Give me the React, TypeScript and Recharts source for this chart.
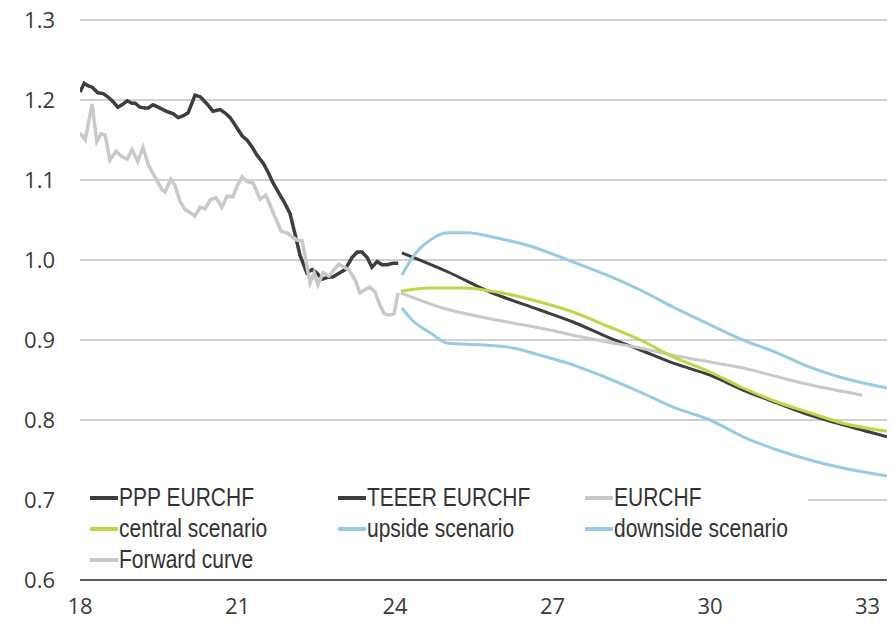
import { CartesianGrid, Legend, Line, LineChart, XAxis, YAxis } from 'recharts'

// [year (18 = 2018), value]
const pppEurchf = [
  [18.0, 1.21], [18.08, 1.221], [18.15, 1.218], [18.23, 1.216], [18.34, 1.209], [18.44, 1.208],
  [18.53, 1.204], [18.63, 1.198], [18.72, 1.191], [18.8, 1.194], [18.9, 1.199], [18.99, 1.196],
  [19.05, 1.196], [19.14, 1.191], [19.24, 1.19], [19.3, 1.19], [19.39, 1.194], [19.49, 1.191],
  [19.58, 1.188], [19.68, 1.185], [19.77, 1.183], [19.87, 1.178], [19.96, 1.18], [20.06, 1.184],
  [20.19, 1.206], [20.29, 1.204], [20.42, 1.195], [20.53, 1.186], [20.67, 1.188], [20.76, 1.184],
  [20.86, 1.178], [20.95, 1.169], [21.09, 1.155], [21.18, 1.15], [21.28, 1.141], [21.37, 1.131],
  [21.49, 1.121], [21.58, 1.11], [21.68, 1.096], [21.81, 1.081], [21.9, 1.071], [22.0, 1.058],
  [22.1, 1.031], [22.19, 1.006], [22.32, 0.984], [22.42, 0.988], [22.51, 0.984], [22.61, 0.976],
  [22.7, 0.978], [22.82, 0.979], [22.95, 0.984], [23.05, 0.988], [23.18, 1.003], [23.28, 1.01],
  [23.37, 1.01], [23.47, 1.003], [23.56, 0.991], [23.66, 0.998], [23.75, 0.994], [23.85, 0.994],
  [23.96, 0.996], [24.06, 0.996],
]

const teeerEurchf = [
  [24.13, 1.009], [25.01, 0.985], [25.81, 0.96], [26.76, 0.9375], [27.39, 0.9225], [28.04, 0.904],
  [28.67, 0.8875], [29.3, 0.871], [30.0, 0.856], [30.63, 0.8375], [31.28, 0.821], [31.9, 0.806],
  [32.53, 0.794], [33.37, 0.779],
]

const eurchf = [
  [18.0, 1.159], [18.1, 1.15], [18.23, 1.195], [18.32, 1.148], [18.4, 1.158], [18.48, 1.156],
  [18.57, 1.125], [18.69, 1.136], [18.78, 1.13], [18.9, 1.126], [18.99, 1.138], [19.1, 1.123],
  [19.2, 1.141], [19.3, 1.119], [19.45, 1.101], [19.56, 1.088], [19.62, 1.085], [19.73, 1.101],
  [19.81, 1.093], [19.9, 1.074], [20.0, 1.063], [20.1, 1.059], [20.19, 1.055], [20.29, 1.066],
  [20.38, 1.064], [20.48, 1.075], [20.59, 1.078], [20.7, 1.066], [20.8, 1.08], [20.91, 1.079],
  [21.01, 1.095], [21.09, 1.104], [21.18, 1.098], [21.3, 1.096], [21.43, 1.076], [21.54, 1.081],
  [21.7, 1.056], [21.83, 1.036], [21.94, 1.034], [22.04, 1.029], [22.13, 1.025], [22.23, 1.024],
  [22.3, 1.0], [22.38, 0.971], [22.46, 0.984], [22.53, 0.969], [22.63, 0.984], [22.74, 0.98],
  [22.84, 0.988], [22.93, 0.995], [23.03, 0.991], [23.12, 0.988], [23.24, 0.975], [23.33, 0.959],
  [23.43, 0.963], [23.52, 0.966], [23.62, 0.96], [23.71, 0.944], [23.79, 0.933], [23.89, 0.931],
  [23.98, 0.933], [24.06, 0.959],
]

const centralScenario = [
  [24.11, 0.961], [24.67, 0.965], [25.3, 0.965], [25.94, 0.96], [26.76, 0.9475], [27.39, 0.935],
  [28.04, 0.9175], [28.67, 0.9], [29.3, 0.879], [30.0, 0.86], [30.63, 0.84], [31.28, 0.8225],
  [31.9, 0.809], [32.53, 0.796], [33.37, 0.786],
]

const upsideScenario = [
  [24.13, 0.981], [24.34, 1.004], [24.67, 1.025], [25.01, 1.034], [25.37, 1.034], [25.94, 1.0275],
  [26.57, 1.0175], [27.39, 0.9975], [28.04, 0.981], [28.67, 0.9625], [29.3, 0.941], [30.0, 0.919],
  [30.63, 0.9], [31.28, 0.884], [31.9, 0.866], [32.53, 0.8525], [33.37, 0.84],
]

const downsideScenario = [
  [24.13, 0.94], [24.34, 0.924], [24.67, 0.909], [25.01, 0.896], [25.62, 0.894], [26.25, 0.89],
  [26.76, 0.881], [27.39, 0.869], [28.04, 0.8525], [28.67, 0.835], [29.3, 0.816], [30.0, 0.8],
  [30.63, 0.779], [31.28, 0.7625], [31.9, 0.75], [32.53, 0.74], [33.37, 0.73],
]

const forwardCurve = [
  [24.11, 0.959], [24.91, 0.94], [25.94, 0.925], [26.76, 0.915], [27.39, 0.906], [28.04, 0.8975],
  [28.67, 0.89], [29.3, 0.881], [30.0, 0.8725], [30.63, 0.865], [31.28, 0.854], [31.9, 0.844],
  [32.9, 0.831],
]

const xTicks = [18, 21, 24, 27, 30, 33]
const yTicks = [0.6, 0.7, 0.8, 0.9, 1.0, 1.1, 1.2, 1.3]

const DARK = '#3e3e3e'
const LIGHT = '#c9c9c9'
const GREEN = '#c2d54a'
const BLUE = '#98cbe5'

const series = [
  { name: 'PPP EURCHF', data: pppEurchf, color: DARK, width: 3.5, type: 'linear' },
  { name: 'TEEER EURCHF', data: teeerEurchf, color: DARK, width: 3, type: 'monotone' },
  { name: 'EURCHF', data: eurchf, color: LIGHT, width: 3.5, type: 'linear' },
  { name: 'Forward curve', data: forwardCurve, color: LIGHT, width: 3, type: 'monotone' },
  { name: 'central scenario', data: centralScenario, color: GREEN, width: 3, type: 'monotone' },
  { name: 'upside scenario', data: upsideScenario, color: BLUE, width: 3, type: 'monotone' },
  { name: 'downside scenario', data: downsideScenario, color: BLUE, width: 3, type: 'monotone' },
] as const

const legendOrder = [
  'PPP EURCHF', 'TEEER EURCHF', 'EURCHF',
  'central scenario', 'upside scenario', 'downside scenario',
  'Forward curve',
]

const toPoints = (rows: readonly (readonly number[])[]) => rows.map(([t, v]) => ({ t, v }))

const tickFont = { fontFamily: "'Open Sans', sans-serif", fontSize: 22, fill: '#3a3a3a' }

function ChartLegend() {
  return (
    <div
      style={{
        display: 'grid',
        gridTemplateColumns: '248px 247px 233px',
        gridAutoRows: '31px',
        paddingTop: 1,
        background: '#fff',
        width: 728,
        height: 94,
        boxSizing: 'border-box',
        fontFamily: "'Liberation Sans', Arial, sans-serif",
        fontSize: 25,
        color: '#333',
      }}
    >
      {legendOrder.map((name) => {
        const s = series.find((x) => x.name === name)!
        return (
          <div key={name} style={{ display: 'flex', alignItems: 'center', paddingLeft: 10, whiteSpace: 'nowrap' }}>
            <span style={{ flex: '0 0 28px', height: 4, background: s.color, marginRight: 1 }} />
            {/* condensed face isn't available, squeeze the regular one */}
            <span style={{ display: 'inline-block', transform: 'scaleX(0.84)', transformOrigin: 'left center' }}>
              {name}
            </span>
          </div>
        )
      })}
    </div>
  )
}

export default function App() {
  return (
    <div style={{ position: 'absolute', left: 0, top: 0, background: '#fff' }}>
      <LineChart width={893} height={624} margin={{ top: 20, right: 6, bottom: 0, left: 0 }}>
        <CartesianGrid vertical={false} stroke="#a3a3a3" strokeWidth={1} />
        <XAxis
          type="number"
          dataKey="t"
          domain={[18, 33.37]}
          ticks={xTicks}
          allowDataOverflow
          height={44}
          tickLine={false}
          tickSize={0}
          tickMargin={18}
          axisLine={{ stroke: '#333', strokeWidth: 1.5 }}
          tick={tickFont}
        />
        <YAxis
          type="number"
          domain={[0.6, 1.3]}
          ticks={yTicks}
          width={80}
          tickLine={false}
          axisLine={false}
          tickSize={0}
          tickMargin={25}
          tick={tickFont}
          tickFormatter={(v: number) => v.toFixed(1)}
        />
        <Legend
          layout="horizontal"
          verticalAlign="middle"
          align="center"
          content={() => <ChartLegend />}
          wrapperStyle={{ position: 'absolute', left: 80, top: 481, width: 728, height: 94 }}
        />
        {series.map((s) => (
          <Line
            key={s.name}
            name={s.name}
            data={toPoints(s.data)}
            dataKey="v"
            type={s.type}
            stroke={s.color}
            strokeWidth={s.width}
            dot={false}
            activeDot={false}
            isAnimationActive={false}
          />
        ))}
      </LineChart>
    </div>
  )
}
